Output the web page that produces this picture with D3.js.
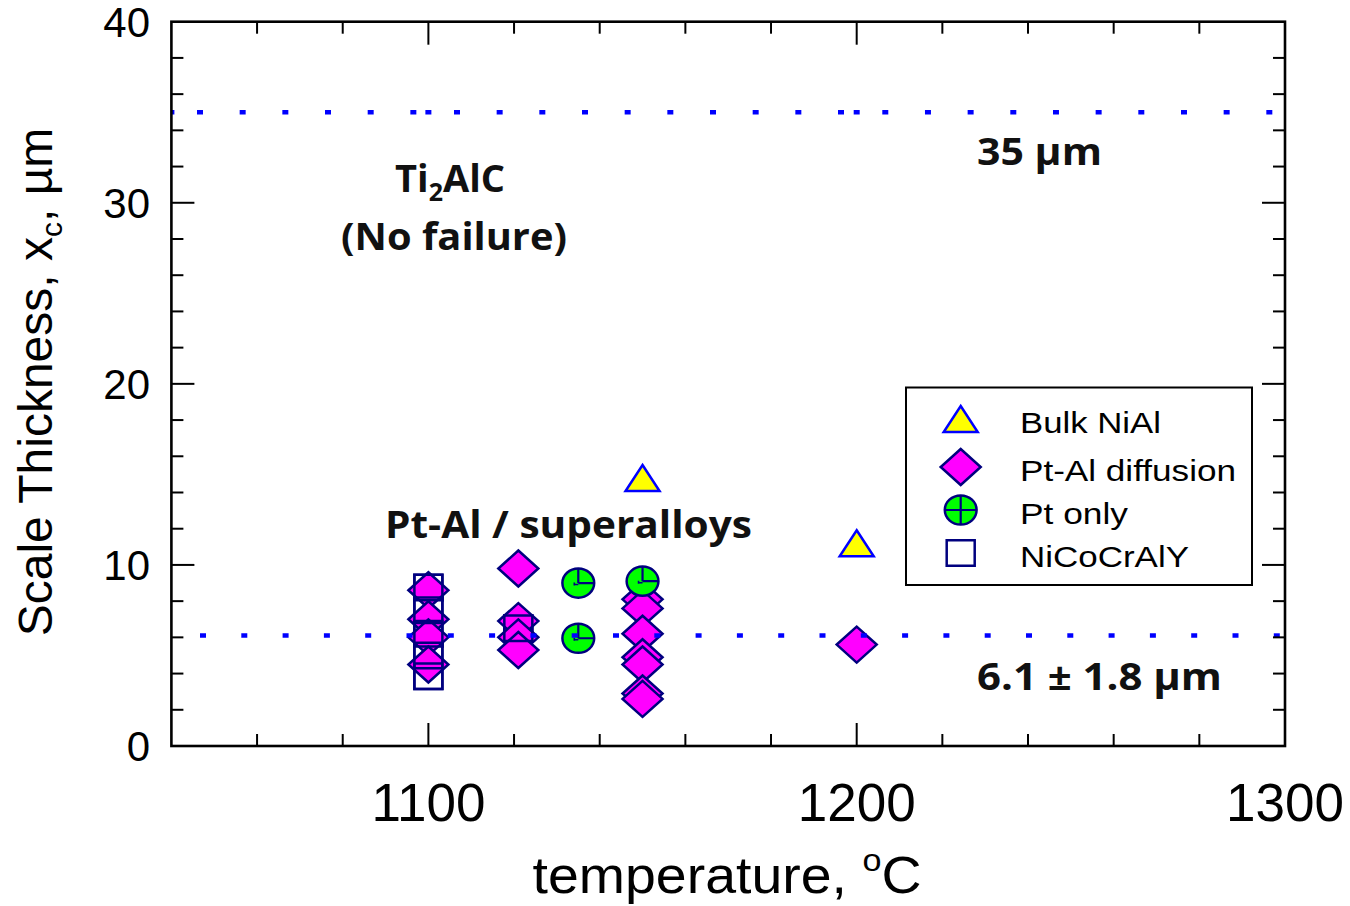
<!DOCTYPE html>
<html>
<head>
<meta charset="utf-8">
<script src="https://cdn.jsdelivr.net/npm/d3@7"></script>
<style>
  html, body { margin: 0; padding: 0; background: #fff; }
  svg { display: block; }
  .tick-label { font-family: "Liberation Sans", Arial, sans-serif; fill: #000; }
  .note { font-family: "Open Sans", "Noto Sans", sans-serif; font-weight: 700; fill: #111; }
</style>
</head>
<body>
<svg id="chart" width="1350" height="906"></svg>
<script>
// Critical scale thickness vs. oxidation temperature
const bulkNiAlTemp = [1150, 1200];
const bulkNiAlThick = [14.8, 11.2];

const ptAlTemp = [1100, 1100, 1100, 1100, 1121, 1121, 1121, 1121,
                  1150, 1150, 1150, 1150, 1150, 1150, 1150, 1200];
const ptAlThick = [8.6, 7.0, 6.0, 4.5, 9.8, 6.9, 6.0, 5.3,
                   8.1, 7.6, 6.2, 4.9, 4.5, 2.9, 2.6, 5.6];

const ptOnlyTemp = [1135, 1135, 1150];
const ptOnlyThick = [9.0, 5.95, 9.1];

const nicocralyTemp = [1100, 1100, 1100, 1100, 1100, 1121];
const nicocralyThick = [8.75, 7.5, 6.2, 5.0, 3.85, 6.5];

// Reference levels
const ti2alcLimit = 35;
const meanCritical = 6.1;
const limitBreaks = [1040, 1100, 1200, 1300];

// Axes
const xDomain = [1040, 1300];
const yDomain = [0, 40];
const xMajorTicks = [1100, 1200, 1300];
const xMinorTicks = d3.range(1060, 1300, 20);
const yMajorTicks = [0, 10, 20, 30, 40];
const yMinorTicks = d3.range(2, 40, 2);

const legendLabels = ["Bulk NiAl", "Pt-Al diffusion", "Pt only", "NiCoCrAlY"];

(function draw() {
const svg = d3.select("#chart");
const pL = 171.4, pR = 1285, pT = 21.7, pB = 746;
const x = d3.scaleLinear().domain(xDomain).range([pL, pR]);
const y = d3.scaleLinear().domain(yDomain).range([pB, pT]);

const NAVY = "#00007f", MAGENTA = "#ff00ff", GREEN = "#00ff00",
      YELLOW = "#ffff00", BLUE = "#0000ff";

// marker shapes (centred on 0,0)
const diamondPath = "M0,-18 L20,0 L0,18 L-20,0 Z";
const trianglePath = "M0,-13 L17,13 L-17,13 Z";
const squarePath = "M-14,-12.8 L14,-12.8 L14,12.8 L-14,12.8 Z";

svg.append("defs").append("clipPath").attr("id", "plotClip")
  .append("rect").attr("x", pL).attr("y", pT)
  .attr("width", pR - pL + 6).attr("height", pB - pT);

const plot = svg.append("g");

// NiCoCrAlY squares (white body)
const sqData = nicocralyTemp.map((t, i) => [t, nicocralyThick[i]]);
plot.selectAll(".sqfill").data(sqData).join("path")
  .attr("d", squarePath)
  .attr("transform", d => `translate(${x(d[0])},${y(d[1])})`)
  .attr("fill", "#fff").attr("stroke", NAVY).attr("stroke-width", 2.5);

// Pt-Al diffusion diamonds
const dmData = ptAlTemp.map((t, i) => [t, ptAlThick[i]]);
plot.selectAll(".dm").data(dmData).join("path")
  .attr("d", diamondPath)
  .attr("transform", d => `translate(${x(d[0])},${y(d[1])})`)
  .attr("fill", MAGENTA).attr("stroke", NAVY).attr("stroke-width", 2.5)
  .attr("stroke-linejoin", "miter");

// square outlines over the diamonds
plot.selectAll(".sqline").data(sqData).join("path")
  .attr("d", squarePath)
  .attr("transform", d => `translate(${x(d[0])},${y(d[1])})`)
  .attr("fill", "none").attr("stroke", NAVY).attr("stroke-width", 2.5);

// Pt only circles
const ciData = ptOnlyTemp.map((t, i) => [t, ptOnlyThick[i]]);
const ci = plot.selectAll(".ci").data(ciData).join("g")
  .attr("transform", d => `translate(${x(d[0])},${y(d[1])})`);
ci.append("ellipse").attr("rx", 15.9).attr("ry", 14.6)
  .attr("fill", GREEN).attr("stroke", NAVY).attr("stroke-width", 2.5);
ci.append("path").attr("d", "M0,-14.6 L0,0 M0,0 L15.9,0")
  .attr("stroke", NAVY).attr("stroke-width", 2.2).attr("fill", "none");
ci.append("path").attr("d", "M-4,1.5 L0,1.5 M-4,-0.5 L-4,2.5")
  .attr("stroke", NAVY).attr("stroke-width", 1.6).attr("fill", "none");

// Bulk NiAl triangles
const trData = bulkNiAlTemp.map((t, i) => [t, bulkNiAlThick[i]]);
plot.selectAll(".tr").data(trData).join("path")
  .attr("d", trianglePath)
  .attr("transform", d => `translate(${x(d[0])},${y(d[1])})`)
  .attr("fill", YELLOW).attr("stroke", BLUE).attr("stroke-width", 2.5);

// Dotted reference levels
function dotPattern() {
  const parts = ["6", "22.6"];
  for (let i = 0; i < 40; i++) parts.push("6", "36.67");
  return parts.join(",");
}
const levels = svg.append("g").attr("clip-path", "url(#plotClip)");
const segs = d3.pairs(limitBreaks);
levels.selectAll(".lim35").data(segs).join("line")
  .attr("x1", d => x(d[0]) - 3).attr("x2", d => x(d[1]) + 6)
  .attr("y1", y(ti2alcLimit)).attr("y2", y(ti2alcLimit))
  .attr("stroke", BLUE).attr("stroke-width", 4.5)
  .attr("stroke-dasharray", dotPattern());
levels.append("line")
  .attr("x1", x(xDomain[0])).attr("x2", x(xDomain[1]) + 6)
  .attr("y1", y(meanCritical)).attr("y2", y(meanCritical))
  .attr("stroke", BLUE).attr("stroke-width", 4.5)
  .attr("stroke-dasharray", "6,35.3").attr("stroke-dashoffset", 12.7);

// Frame and ticks (inward on all four sides)
const axisG = svg.append("g").attr("stroke", "#000").attr("fill", "none");
axisG.append("rect").attr("x", pL).attr("y", pT)
  .attr("width", pR - pL).attr("height", pB - pT)
  .attr("stroke-width", 2.6);

const minorLen = 12, majorLen = 23;
xMinorTicks.forEach(v => {
  const len = xMajorTicks.includes(v) ? majorLen : minorLen;
  axisG.append("line").attr("x1", x(v)).attr("x2", x(v))
    .attr("y1", pB).attr("y2", pB - len).attr("stroke-width", 2);
  axisG.append("line").attr("x1", x(v)).attr("x2", x(v))
    .attr("y1", pT).attr("y2", pT + len).attr("stroke-width", 2);
});
yMinorTicks.forEach(v => {
  const len = yMajorTicks.includes(v) ? majorLen : minorLen;
  axisG.append("line").attr("x1", pL).attr("x2", pL + len)
    .attr("y1", y(v)).attr("y2", y(v)).attr("stroke-width", 2);
  axisG.append("line").attr("x1", pR).attr("x2", pR - len)
    .attr("y1", y(v)).attr("y2", y(v)).attr("stroke-width", 2);
});

// Tick labels
svg.selectAll(".xl").data(xMajorTicks).join("text")
  .attr("class", "tick-label")
  .attr("x", d => x(d)).attr("y", 821)
  .attr("text-anchor", "middle").attr("font-size", 53)
  .text(d => d);
svg.selectAll(".yl").data(yMajorTicks).join("text")
  .attr("class", "tick-label")
  .attr("x", 150).attr("y", d => y(d) + 15)
  .attr("text-anchor", "end").attr("font-size", 42)
  .text(d => d);

// Axis titles
const xt = svg.append("text").attr("class", "tick-label")
  .attr("x", 727).attr("y", 893).attr("text-anchor", "middle")
  .attr("font-size", 52)
  .attr("textLength", 389).attr("lengthAdjust", "spacingAndGlyphs");
xt.append("tspan").text("temperature, ");
xt.append("tspan").attr("font-size", 32).attr("dy", -22).text("o");
xt.append("tspan").attr("dy", 22).text("C");

const yt = svg.append("text").attr("class", "tick-label")
  .attr("transform", "translate(52,382) rotate(-90)")
  .attr("text-anchor", "middle").attr("font-size", 48);
yt.append("tspan").text("Scale Thickness, x");
yt.append("tspan").attr("font-size", 30).attr("dy", 10).text("c");
yt.append("tspan").attr("dy", -10).text(", \u00b5m");

// Annotations
const ti = svg.append("text").attr("class", "note")
  .attr("x", 450).attr("y", 192).attr("text-anchor", "middle").attr("font-size", 38);
ti.append("tspan").text("Ti");
ti.append("tspan").attr("font-size", 25).attr("dy", 9).text("2");
ti.append("tspan").attr("dy", -9).text("AlC");

const notes = [
  { t: "(No failure)", x: 341, y: 250, w: 226 },
  { t: "35 \u00b5m", x: 977, y: 165, w: 125 },
  { t: "Pt-Al / superalloys", x: 385, y: 538, w: 367 },
  { t: "6.1 \u00b1 1.8 \u00b5m", x: 977, y: 690, w: 245 }
];
svg.selectAll(".nt").data(notes).join("text")
  .attr("class", "note").attr("font-size", 37)
  .attr("x", d => d.x).attr("y", d => d.y)
  .attr("textLength", d => d.w).attr("lengthAdjust", "spacingAndGlyphs")
  .text(d => d.t);

// Legend
const lg = svg.append("g");
lg.append("rect").attr("x", 906).attr("y", 387.5).attr("width", 346).attr("height", 197.5)
  .attr("fill", "#fff").attr("stroke", "#000").attr("stroke-width", 2);
const rowsY = [419, 467, 510, 553];
const symX = 960.7;
lg.append("path").attr("d", trianglePath)
  .attr("transform", `translate(${symX},${rowsY[0]})`)
  .attr("fill", YELLOW).attr("stroke", BLUE).attr("stroke-width", 2.5);
lg.append("path").attr("d", diamondPath)
  .attr("transform", `translate(${symX},${rowsY[1]})`)
  .attr("fill", MAGENTA).attr("stroke", NAVY).attr("stroke-width", 2.5);
const lc = lg.append("g").attr("transform", `translate(${symX},${rowsY[2]})`);
lc.append("ellipse").attr("rx", 15.9).attr("ry", 14.6)
  .attr("fill", GREEN).attr("stroke", NAVY).attr("stroke-width", 2.5);
lc.append("path").attr("d", "M0,-14.6 L0,14.6 M-15.9,0 L15.9,0")
  .attr("stroke", NAVY).attr("stroke-width", 2.2);
lg.append("path").attr("d", squarePath)
  .attr("transform", `translate(${symX},${rowsY[3]})`)
  .attr("fill", "#fff").attr("stroke", NAVY).attr("stroke-width", 2.5);

const lgWidths = [141, 216, 108, 169];
lg.selectAll(".lt").data(legendLabels).join("text")
  .attr("class", "tick-label").attr("font-size", 30)
  .attr("x", 1020).attr("y", (d, i) => rowsY[i] + 14)
  .attr("textLength", (d, i) => lgWidths[i]).attr("lengthAdjust", "spacingAndGlyphs")
  .text(d => d);
})();
</script>
</body>
</html>
